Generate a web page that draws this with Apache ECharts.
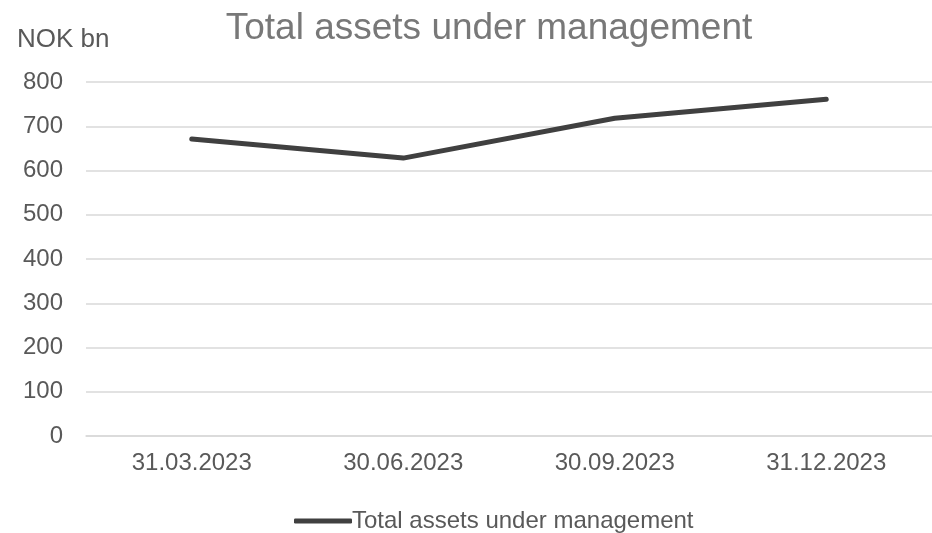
<!DOCTYPE html>
<html><head><meta charset="utf-8">
<script src="https://cdn.jsdelivr.net/npm/echarts@6/dist/echarts.min.js"></script>
<style>html,body{margin:0;padding:0;background:#fff}#c{width:932px;height:533px}</style>
</head><body><div id="c"></div>
<script>
const categories = ['31.03.2023', '30.06.2023', '30.09.2023', '31.12.2023'];
const aum = [671, 628, 718, 761];
const seriesName = 'Total assets under management';
const yTicks = { min: 0, max: 800, interval: 100 };

const chart = echarts.init(document.getElementById('c'));
const F = '"Liberation Sans", Arial, sans-serif';
chart.setOption({
  animation: false,
  textStyle: { fontFamily: F },
  title: {
    text: 'Total assets under management',
    left: 484, top: 5, textAlign: 'center',
    textStyle: { fontFamily: F, fontSize: 37, fontWeight: 'normal', color: '#787878' }
  },
  graphic: [{
    type: 'text', left: 17, top: 27,
    style: { text: 'NOK bn', font: '26px "Liberation Sans", Arial, sans-serif', fill: '#595959' }
  }],
  legend: {
    top: 504, left: 289,
    itemWidth: 58, itemHeight: 5, itemGap: 0,
    textStyle: { fontFamily: F, fontSize: 24, color: '#595959', padding: [0, 0, 0, -5] },
    data: [{ name: seriesName, icon: 'roundRect' }]
  },
  grid: { left: 86, width: 853, top: 82, height: 354, containLabel: false },
  xAxis: {
    type: 'category', data: categories, boundaryGap: true,
    axisLine: { show: true, lineStyle: { color: '#d9d9d9', width: 1.5 } },
    axisTick: { show: false },
    axisLabel: { fontFamily: F, fontSize: 24, color: '#595959', margin: 15 }
  },
  yAxis: {
    type: 'value', min: yTicks.min, max: yTicks.max, interval: yTicks.interval,
    axisLine: { show: false }, axisTick: { show: false },
    splitLine: { lineStyle: { color: '#d9d9d9', width: 1.5 } },
    axisLabel: { fontFamily: F, fontSize: 24, color: '#595959', margin: 23 }
  },
  series: [{
    name: seriesName, type: 'line', data: aum,
    symbol: 'none',
    lineStyle: { color: '#404040', width: 5, cap: 'round', join: 'round' },
    itemStyle: { color: '#404040' }
  }]
});
</script></body></html>
